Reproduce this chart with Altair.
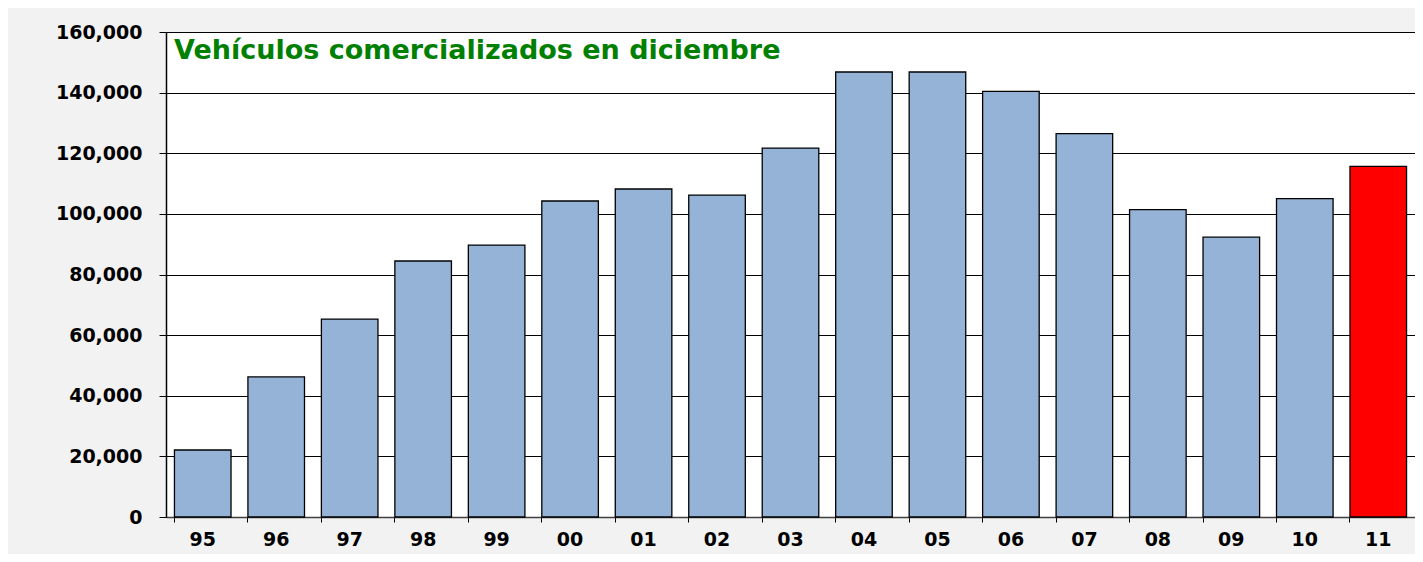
import altair as alt
import pandas as pd

years = ["95", "96", "97", "98", "99", "00", "01", "02", "03", "04",
         "05", "06", "07", "08", "09", "10", "11"]
values = [22100, 46200, 65300, 84450, 89700, 104250, 108200, 106200, 121700,
          146800, 146800, 140400, 126450, 101400, 92300, 105000, 115700]
y_ticks = [0, 20000, 40000, 60000, 80000, 100000, 120000, 140000, 160000]
title_text = "Vehículos comercializados en diciembre"

df = pd.DataFrame({"year": years, "value": values})
FONT = "DejaVu Sans"

bars = alt.Chart(df).mark_bar(stroke="#000000", strokeWidth=1.3).encode(
    x=alt.X("year:N", sort=years, title=None,
            scale=alt.Scale(paddingInner=0.23, paddingOuter=0.115),
            axis=alt.Axis(labelAngle=0, labelFont=FONT, labelFontSize=19,
                          labelFontWeight="bold", labelColor="#000000",
                          labelPadding=8, tickSize=5, tickColor="#000000",
                          bandPosition=0, domainColor="#404040",
                          domainWidth=1.5, grid=False)),
    y=alt.Y("value:Q", title=None,
            scale=alt.Scale(domain=[0, 160000], nice=False),
            axis=alt.Axis(values=y_ticks, format=",.0f", labelFont=FONT,
                          labelFontSize=19, labelFontWeight="bold",
                          labelColor="#000000", labelPadding=17, tickSize=7,
                          tickColor="#000000", domainColor="#000000",
                          domainWidth=1.5, grid=True, gridColor="#000000",
                          gridWidth=1, gridOpacity=1)),
    color=alt.condition(alt.datum.year == "11", alt.value("#ff0000"),
                        alt.value("#95b3d7")),
)

title = alt.Chart(pd.DataFrame({"t": [title_text]})).mark_text(
    font=FONT, fontSize=27, fontWeight="bold", color="#008000",
    align="left", baseline="alphabetic"
).encode(text="t:N", x=alt.value(8), y=alt.value(27))

chart = alt.layer(bars, title).properties(
    width=1249, height=485,
    autosize=alt.AutoSizeParams(type="none"),
    padding={"left": 158, "top": 24, "right": 0, "bottom": 37},
    background="#f2f2f2",
).configure_view(fill="#ffffff", stroke=None)

chart.save("out.html", embed_options={"renderer": "svg", "actions": False})
